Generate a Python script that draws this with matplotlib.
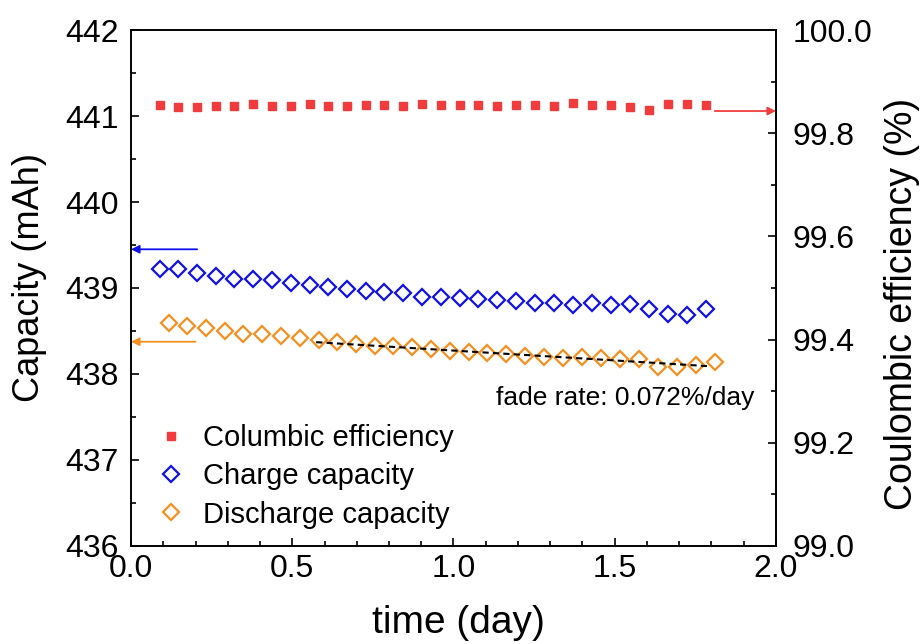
import matplotlib
matplotlib.use("Agg")
import matplotlib.pyplot as plt
from matplotlib.ticker import MultipleLocator, FormatStrFormatter
import numpy as np

plt.rcParams["font.family"] = ["Liberation Sans", "DejaVu Sans"]

# time (day) of each cycle
t_ce = [0.090, 0.147, 0.204, 0.264, 0.320, 0.379, 0.438, 0.496, 0.555, 0.612,
        0.670, 0.729, 0.785, 0.844, 0.902, 0.961, 1.020, 1.076, 1.135, 1.194,
        1.253, 1.312, 1.371, 1.429, 1.488, 1.547, 1.606, 1.665, 1.724, 1.783]
t_dis = [0.118, 0.175, 0.232, 0.292, 0.348, 0.407, 0.466, 0.524, 0.583, 0.640,
         0.698, 0.757, 0.813, 0.872, 0.930, 0.989, 1.048, 1.104, 1.163, 1.222,
         1.281, 1.340, 1.399, 1.457, 1.516, 1.575, 1.634, 1.693, 1.752, 1.811]

ce = [99.855, 99.850, 99.851, 99.853, 99.853, 99.856, 99.853, 99.852, 99.856, 99.853,
      99.853, 99.855, 99.855, 99.853, 99.857, 99.855, 99.855, 99.855, 99.853, 99.855,
      99.855, 99.852, 99.858, 99.855, 99.854, 99.851, 99.845, 99.857, 99.856, 99.855]

charge = [439.22, 439.22, 439.18, 439.14, 439.11, 439.10, 439.09, 439.06, 439.03, 439.01,
          438.99, 438.97, 438.95, 438.94, 438.90, 438.89, 438.88, 438.87, 438.86, 438.85,
          438.83, 438.83, 438.80, 438.82, 438.80, 438.81, 438.76, 438.70, 438.69, 438.76]

discharge = [438.59, 438.56, 438.53, 438.50, 438.47, 438.47, 438.44, 438.42, 438.40, 438.37,
             438.35, 438.33, 438.32, 438.31, 438.29, 438.27, 438.25, 438.24, 438.23, 438.21,
             438.20, 438.19, 438.20, 438.19, 438.18, 438.17, 438.08, 438.08, 438.10, 438.14]

# linear fit drawn over the later discharge points
fit_t = [0.574, 1.795]
fit_cap = [438.37, 438.09]

red = "#F03C3C"
blue = "#1010E8"
orange = "#F39020"

fig = plt.figure(figsize=(9.24, 6.44), dpi=100)
ax = fig.add_axes([0.1418, 0.1522, 0.6980, 0.8012])
ax2 = ax.twinx()

ax2.plot(t_ce, ce, linestyle="none", marker="s", ms=6, color=red, label="Columbic efficiency")
ax.plot(t_ce, charge, linestyle="none", marker="D", ms=8.5, mfc="none", mec=blue, mew=1.6,
        label="Charge capacity")
ax.plot(t_dis, discharge, linestyle="none", marker="D", ms=8.5, mfc="none", mec=orange, mew=1.6,
        label="Discharge capacity")
ax.plot(fit_t, fit_cap, linestyle="--", color="black", lw=1.5, dashes=(3, 2))

ax.set_xlim(0, 2.0)
ax.set_ylim(436, 442)
ax2.set_ylim(99.0, 100.0)

ax.xaxis.set_major_locator(MultipleLocator(0.5))
ax.xaxis.set_minor_locator(MultipleLocator(0.1))
ax.xaxis.set_major_formatter(FormatStrFormatter("%.1f"))
ax.yaxis.set_major_locator(MultipleLocator(1))
ax.yaxis.set_minor_locator(MultipleLocator(0.5))
ax2.yaxis.set_major_locator(MultipleLocator(0.2))
ax2.yaxis.set_minor_locator(MultipleLocator(0.1))
ax2.yaxis.set_major_formatter(FormatStrFormatter("%.1f"))

for a in (ax, ax2):
    a.tick_params(which="major", direction="in", length=6, width=1.2, labelsize=23)
    a.tick_params(which="minor", direction="in", length=3.5, width=1.2)
    for s in a.spines.values():
        s.set_linewidth(1.2)
ax.tick_params(axis="x", pad=6)
ax.tick_params(axis="y", pad=9)
ax2.tick_params(axis="y", pad=12)

ax.set_xlabel("time (day)", fontsize=28)
ax.xaxis.set_label_coords(0.507, -0.114)
ax.set_ylabel("Capacity (mAh)", fontsize=26)
ax.yaxis.set_label_coords(-0.130, 0.521)
ax2.set_ylabel("Coulombic efficiency (%)", fontsize=27)
ax2.yaxis.set_label_coords(1.167, 0.47)

# arrows pointing to the matching axis
arrow = dict(arrowstyle="-|>", lw=1.3, mutation_scale=12, shrinkA=0, shrinkB=0)
ax.annotate("", xy=(0.0, 439.45), xytext=(0.205, 439.45), arrowprops=dict(arrow, color=blue))
ax.annotate("", xy=(0.0, 438.375), xytext=(0.2, 438.375), arrowprops=dict(arrow, color=orange))
ax2.annotate("", xy=(2.0, 99.843), xytext=(1.81, 99.843), arrowprops=dict(arrow, color=red))

ax.text(0.566, 0.287, "fade rate: 0.072%/day", transform=ax.transAxes, fontsize=19, va="center")

h1, l1 = ax2.get_legend_handles_labels()
h2, l2 = ax.get_legend_handles_labels()
ax.legend(h1 + h2, l1 + l2, loc="center left", bbox_to_anchor=(0.04, 0.135), frameon=False,
          fontsize=21, handlelength=1.0, handletextpad=0.6, labelspacing=0.35,
          borderpad=0, borderaxespad=0)

fig.savefig("out.png", dpi=100)
